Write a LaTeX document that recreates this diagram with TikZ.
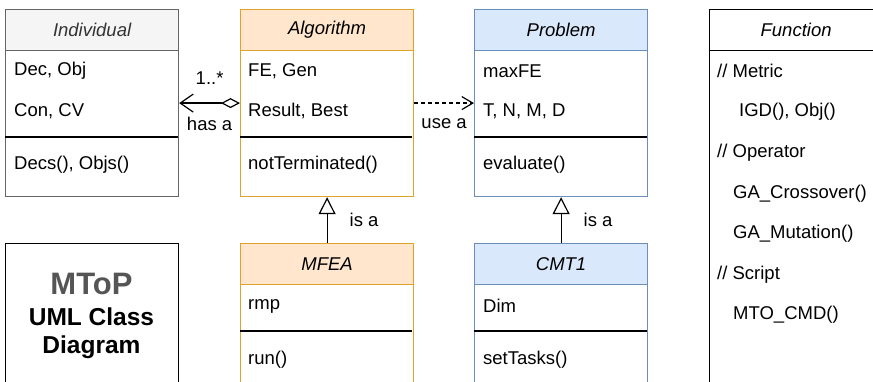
\documentclass[tikz,border=0pt]{standalone}
\usepackage{fontspec}
\setmainfont{Liberation Sans}
\usetikzlibrary{arrows.meta}
\definecolor{indFill}{HTML}{F5F5F5}
\definecolor{indLine}{HTML}{666666}
\definecolor{indText}{HTML}{333333}
\definecolor{algFill}{HTML}{FFE6CC}
\definecolor{algLine}{HTML}{DDA32C}
\definecolor{proFill}{HTML}{DAE8FC}
\definecolor{proLine}{HTML}{6C8EBF}
\definecolor{titleGray}{HTML}{555555}
\begin{document}
\begin{tikzpicture}[x=1pt,y=-1pt,
  every node/.style={font=\fontsize{18.5}{22}\selectfont},
  frame/.style={draw, line width=1.2pt, fill=white, inner sep=0pt, anchor=north west, minimum width=173pt},
  hdr/.style={draw, line width=1.2pt, inner sep=0pt, anchor=north west, minimum width=173pt, minimum height=41pt, font=\fontsize{18.5}{22}\selectfont\itshape},
  txt/.style={anchor=west, inner sep=0pt},
  sepline/.style={line width=1.2pt, black},
  conn/.style={line width=1.2pt, black},
  lbl/.style={inner sep=0pt}
]
\useasboundingbox (0,0) rectangle (873,382);
\clip (0,0) rectangle (873,382);

% Individual
\node[frame, draw=indLine, minimum height=187pt] (ind) at (5,9) {};
\node[hdr, draw=indLine, fill=indFill, text=indText] (indH) at (5,9) {Individual};
\draw[sepline] (5,137) -- (178,137);
\node[txt] (indA1) at (14,71) {Dec, Obj};
\node[txt] (indA2) at (14,111) {Con, CV};
\node[txt] (indM1) at (14,165) {Decs(), Objs()};

% Algorithm
\node[frame, draw=algLine, minimum height=187pt] (alg) at (240,9) {};
\node[hdr, draw=algLine, fill=algFill] (algH) at (240,9) {Algorithm};
\draw[sepline] (240,137) -- (412,137);
\node[txt] (algA1) at (248,71) {FE, Gen};
\node[txt] (algA2) at (248,111) {Result, Best};
\node[txt] (algM1) at (248,165) {notTerminated()};

% Problem
\node[frame, draw=proLine, minimum height=187pt] (pro) at (474,9) {};
\node[hdr, draw=proLine, fill=proFill] (proH) at (474,9) {Problem};
\draw[sepline] (474,137) -- (647,137);
\node[txt] (proA1) at (483,71) {maxFE};
\node[txt] (proA2) at (483,111) {T, N, M, D};
\node[txt] (proM1) at (483,165) {evaluate()};

% Function
\node[frame, draw=black, minimum height=400pt] (fun) at (709,9) {};
\node[hdr, draw=black, fill=white] (funH) at (709,9) {Function};
\node[txt] (fun1) at (717,71) {// Metric};
\node[txt] (fun2) at (739,112) {IGD(), Obj()};
\node[txt] (fun3) at (717,153) {// Operator};
\node[txt] (fun4) at (733,194) {GA\_Crossover()};
\node[txt] (fun5) at (733,234) {GA\_Mutation()};
\node[txt] (fun6) at (717,275) {// Script};
\node[txt] (fun7) at (733,315) {MTO\_CMD()};

% MToP title box
\node[frame, draw=black, minimum height=200pt] (mtop) at (5,243) {};
\node[font=\fontsize{31}{36}\selectfont\bfseries, text=titleGray, inner sep=0pt] (mtopT) at (91.5,284) {MToP};
\node[font=\fontsize{24.5}{28}\selectfont\bfseries, inner sep=0pt] (mtopU) at (91.5,317) {UML Class};
\node[font=\fontsize{24.5}{28}\selectfont\bfseries, inner sep=0pt] (mtopD) at (91.5,347) {Diagram};

% MFEA
\node[frame, draw=algLine, minimum height=200pt] (mfea) at (240,243) {};
\node[hdr, draw=algLine, fill=algFill] (mfeaH) at (240,243) {MFEA};
\draw[sepline] (240,331) -- (412,331);
\node[txt] (mfeaA1) at (248,306) {rmp};
\node[txt] (mfeaM1) at (248,360) {run()};

% CMT1
\node[frame, draw=proLine, minimum height=200pt] (cmt) at (474,243) {};
\node[hdr, draw=proLine, fill=proFill] (cmtH) at (474,243) {CMT1};
\draw[sepline] (474,331) -- (647,331);
\node[txt] (cmtA1) at (483,306) {Dim};
\node[txt] (cmtM1) at (483,360) {setTasks()};

% connectors
\draw[conn, {Diamond[open,length=19pt,width=10pt]}-{Straight Barb[length=13pt,width=18pt]}]
  (alg.west) -- node[lbl, yshift=25pt]{1..*} node[lbl, yshift=-21pt]{has a} (ind.east);
\draw[conn, dash pattern=on 4pt off 3pt, -{Straight Barb[length=11pt,width=13pt]}]
  (alg.east) -- node[lbl, yshift=-21pt]{use a} (pro.west);
\draw[conn, -{Triangle[open,length=17pt,width=17pt]}]
  (mfea.north) -- node[lbl, anchor=west, xshift=22pt]{is a} (alg.south);
\draw[conn, -{Triangle[open,length=17pt,width=17pt]}]
  (cmt.north) -- node[lbl, anchor=west, xshift=22pt]{is a} (pro.south);
\end{tikzpicture}
\end{document}
